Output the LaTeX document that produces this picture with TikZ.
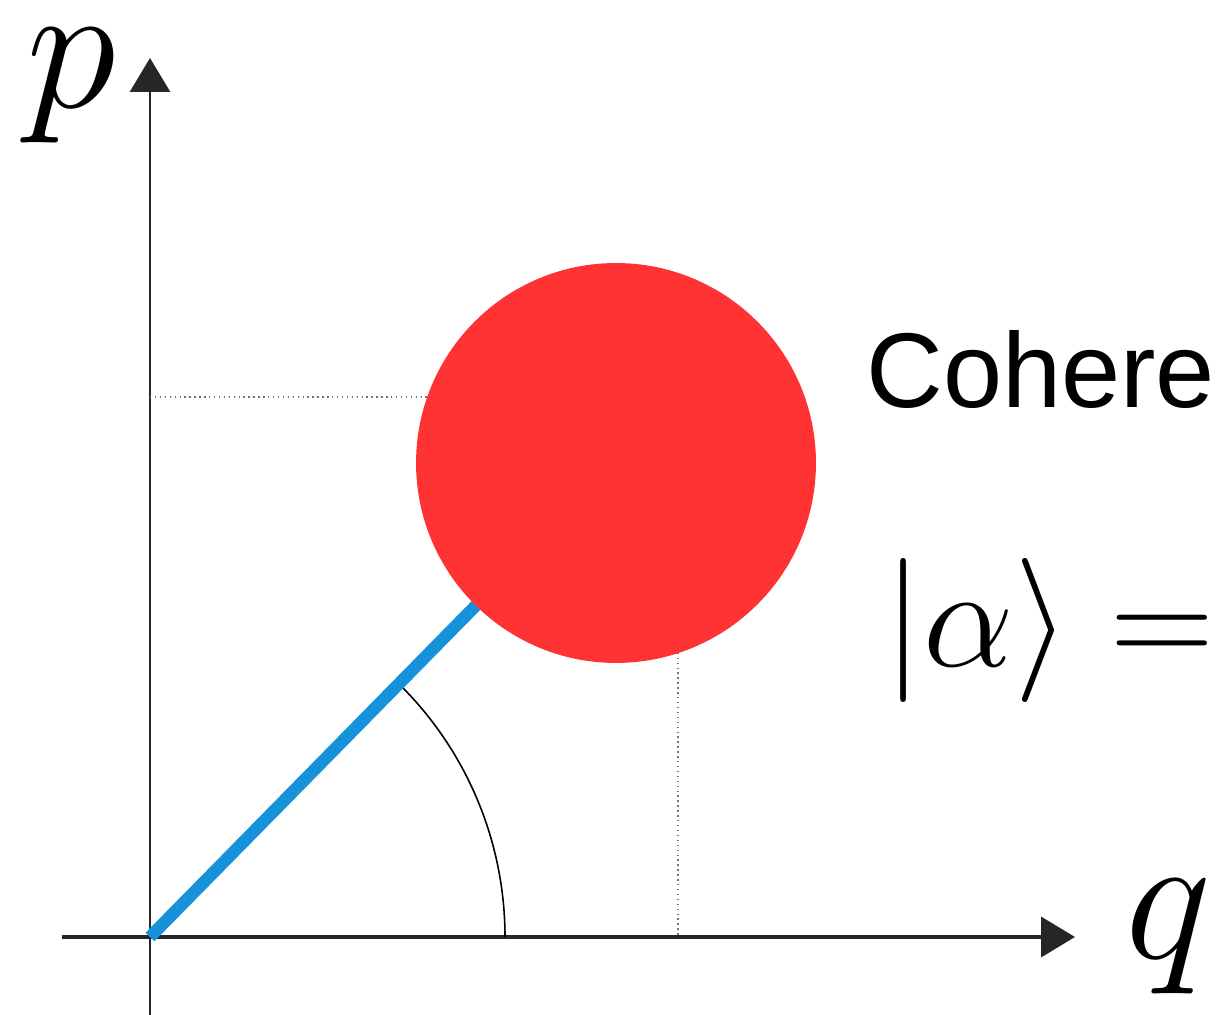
\documentclass[tikz,border=0pt]{standalone}
\usepackage{fix-cm}
\usepackage{fontspec}
\newfontfamily\sansfont{Liberation Sans}
\usetikzlibrary{arrows.meta,positioning,calc}

\definecolor{beamblue}{RGB}{22,146,218}
\definecolor{statered}{RGB}{255,51,51}

\begin{document}
\begin{tikzpicture}[
      x=0.02cm, y=0.02cm,
      >={Triangle[length=0.68cm,width=0.8cm]},
      axis/.style={->, line width=1.6pt, draw=black!85},
      beam/.style={line width=7pt, draw=beamblue},
      guide/.style={dotted, line width=0.8pt, draw=black!55},
      sweep/.style={line width=0.9pt, draw=black},
      blob/.style={circle, fill=statered, minimum size=8cm, inner sep=0pt},
      axlabel/.style={inner sep=0pt, anchor=base west, font=\fontsize{104}{120}\selectfont},
      caption/.style={inner sep=0pt, anchor=base west}
    ]
    \useasboundingbox (0,0) rectangle (1220,1014);
    \clip (0,0) rectangle (1220,1014);

    % Axes
    \coordinate (O) at (150,77);
    \coordinate (pbot) at (150,-10);
    \coordinate (ptop) at (150,956);
    \coordinate (qleft) at (62,77);
    \coordinate (qright) at (1075,77);
    \draw[axis] (pbot) -- (ptop);
    \draw[axis, line width=2.2pt] (qleft) -- (qright);
    \node[axlabel] (plabel) at (26,906) {$p$};
    \node[axlabel] (qlabel) at (1125,55) {$q$};

    % Projections
    \coordinate (S) at (616,551);
    \coordinate (corner) at (678,617);
    \draw[guide] (O |- corner) -- (corner);
    \draw[guide] (corner) -- (O -| corner);

    % Amplitude and phase
    \coordinate (arcstart) at (505,77);
    \draw[sweep] (arcstart) arc[start angle=0, end angle=45, radius=355];
    \draw[beam] (O) -- (S);
    \node[blob] (state) at (S) {};

    % Labels
    \node[caption, font=\sansfont\fontsize{60.5}{72}\selectfont] (title) at (866,606) {Cohere};
    \node[caption, font=\fontsize{82}{96}\selectfont] (ket) at (883,347) {$|\alpha\rangle =$};
  \end{tikzpicture}
\end{document}
